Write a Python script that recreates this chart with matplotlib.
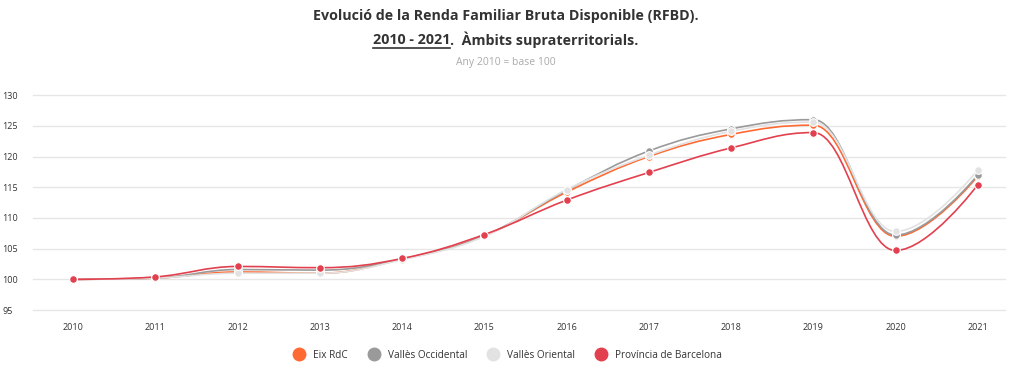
import matplotlib
matplotlib.use("Agg")
import matplotlib.pyplot as plt
from matplotlib.path import Path
from matplotlib.patches import PathPatch
from matplotlib.lines import Line2D

# ------ data ------
years = [2010, 2011, 2012, 2013, 2014, 2015, 2016, 2017, 2018, 2019, 2020, 2021]

eix_rdc = [100.0, 100.2, 101.2, 101.0, 103.3, 107.1, 114.2, 120.0, 123.6, 125.1, 107.0, 116.8]
valles_occ = [100.0, 100.2, 101.6, 101.5, 103.3, 107.1, 114.5, 120.9, 124.5, 126.0, 107.2, 117.0]
valles_ori = [100.0, 100.2, 101.0, 101.0, 103.2, 107.0, 114.6, 120.2, 124.1, 125.6, 107.8, 117.8]
prov_bcn = [100.0, 100.4, 102.1, 101.9, 103.4, 107.3, 112.9, 117.4, 121.4, 123.9, 104.7, 115.4]

series_names = ["Eix RdC", "Vallès Occidental", "Vallès Oriental", "Província de Barcelona"]
series_values = [eix_rdc, valles_occ, valles_ori, prov_bcn]
series_colors = ["#ff6a33", "#9a9a9a", "#e2e2e2", "#e2404e"]

y_ticks = [95, 100, 105, 110, 115, 120, 125, 130]

FONT = ["Open Sans", "DejaVu Sans"]
plt.rcParams["font.family"] = FONT


def spline_path(xs, ys, smoothing=1.5):
    """Cubic bezier path through the points, same control-point rule as a
    Highcharts spline."""
    n = len(xs)
    left = [(x, y) for x, y in zip(xs, ys)]
    right = [(x, y) for x, y in zip(xs, ys)]
    denom = smoothing + 1
    for i in range(1, n - 1):
        px, py = xs[i], ys[i]
        lx, ly = xs[i - 1], ys[i - 1]
        nx, ny = xs[i + 1], ys[i + 1]
        lcx = (smoothing * px + lx) / denom
        lcy = (smoothing * py + ly) / denom
        rcx = (smoothing * px + nx) / denom
        rcy = (smoothing * py + ny) / denom
        corr = 0
        if rcx != lcx:
            corr = (rcy - lcy) * (rcx - px) / (rcx - lcx) + py - rcy
        lcy += corr
        rcy += corr
        if lcy > ly and lcy > py:
            lcy = max(ly, py)
            rcy = 2 * py - lcy
        elif lcy < ly and lcy < py:
            lcy = min(ly, py)
            rcy = 2 * py - lcy
        if rcy > ny and rcy > py:
            rcy = max(ny, py)
            lcy = 2 * py - rcy
        elif rcy < ny and rcy < py:
            rcy = min(ny, py)
            lcy = 2 * py - rcy
        left[i] = (lcx, lcy)
        right[i] = (rcx, rcy)
    verts = [(xs[0], ys[0])]
    codes = [Path.MOVETO]
    for i in range(1, n):
        verts += [right[i - 1], left[i], (xs[i], ys[i])]
        codes += [Path.CURVE4] * 3
    return Path(verts, codes)


# ------ main section ------
def main():
    fig = plt.figure(figsize=(10.11, 3.70), dpi=100)
    ax = fig.add_axes([0.0326, 0.162, 0.9614, 0.581])

    for name, vals, col in zip(series_names, series_values, series_colors):
        patch = PathPatch(spline_path(years, vals), facecolor="none",
                          edgecolor=col, lw=1.2, zorder=3)
        ax.add_patch(patch)
        ax.plot(years, vals, linestyle="none", marker="o", markersize=5.5,
                markerfacecolor=col, markeredgecolor="white",
                markeredgewidth=0.8, zorder=4)

    ax.set_xlim(2009.51, 2021.33)
    ax.set_ylim(95, 130)
    ax.set_yticks(y_ticks)
    ax.set_xticks(years)
    ax.set_xticklabels([str(y) for y in years])
    ax.grid(axis="y", color="#e6e6e6", lw=1.0, zorder=0)
    for gl in ax.get_ygridlines():
        gl.set_clip_on(False)
    ax.grid(axis="x", visible=False)
    for s in ax.spines.values():
        s.set_visible(False)
    ax.tick_params(axis="both", length=0, labelsize=6.5, labelcolor="#333333")
    ax.tick_params(axis="x", pad=9)
    for lab in ax.get_yticklabels():
        lab.set_horizontalalignment("left")
    ax.tick_params(axis="y", pad=22)

    # titles
    fs = 10.3
    fig.text(0.5, 0.958, "Evolució de la Renda Familiar Bruta Disponible (RFBD).",
             ha="center", va="center", fontsize=fs, fontweight="bold",
             color="#333333")
    part_a = "2010 - 2021"
    part_b = ".  Àmbits supraterritorials."
    fig.canvas.draw()
    renderer = fig.canvas.get_renderer()
    ta = fig.text(0, 0, part_a, fontsize=fs, fontweight="bold", color="#333333",
                  va="center")
    tb = fig.text(0, 0, part_b, fontsize=fs, fontweight="bold", color="#333333",
                  va="center")
    wa = ta.get_window_extent(renderer).width / fig.bbox.width
    wb = tb.get_window_extent(renderer).width / fig.bbox.width
    x0 = 0.5 - (wa + wb) / 2
    y2 = 0.892
    ta.set_position((x0, y2))
    tb.set_position((x0 + wa, y2))
    fig.add_artist(Line2D([x0, x0 + wa], [y2 - 0.021, y2 - 0.021],
                          color="#333333", lw=1.2, transform=fig.transFigure))
    fig.text(0.5, 0.832, "Any 2010 = base 100", ha="center", va="center",
             fontsize=7.5, color="#aaaaaa")

    # legend
    handles = [Line2D([], [], linestyle="none", marker="o", markersize=9,
                      markerfacecolor=c, markeredgecolor=c)
               for c in series_colors]
    fig.legend(handles, series_names, loc="center", bbox_to_anchor=(0.5, 0.04),
               ncol=4, frameon=False, fontsize=7.2, handletextpad=0.4,
               columnspacing=1.6, labelcolor="#333333")

    fig.savefig("out.png", dpi=100)


if __name__ == "__main__":
    main()
